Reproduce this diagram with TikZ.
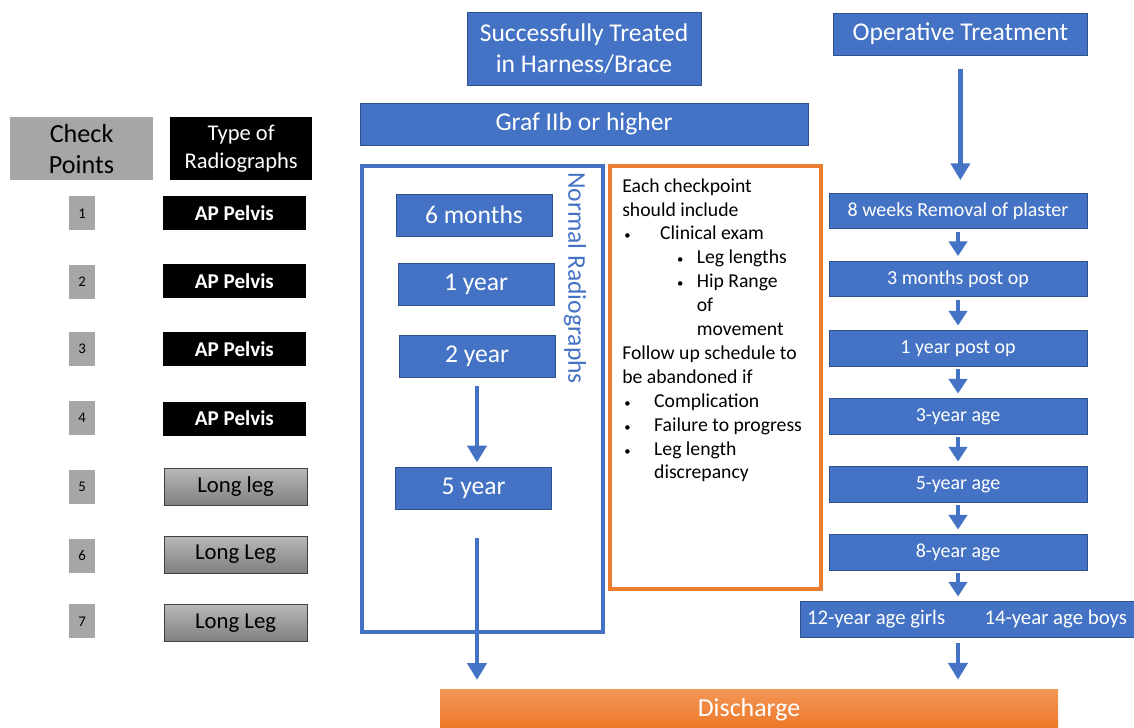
\documentclass[tikz,border=0pt]{standalone}
\usepackage{fontspec}
\setmainfont{Carlito}
\usetikzlibrary{arrows.meta,positioning,calc}

\definecolor{ofblue}{RGB}{68,114,196}
\definecolor{ofblueedge}{RGB}{47,82,143}
\definecolor{oforange}{RGB}{237,125,49}
\definecolor{dischtop}{RGB}{243,150,88}
\definecolor{dischbot}{RGB}{236,118,36}
\definecolor{ckgray}{RGB}{166,166,166}

\newcommand{\bul}[3]{\makebox[#2][l]{\hspace*{#1}{\small\textbullet}}#3}

\begin{document}
\begin{tikzpicture}[
  box/.style={rectangle, inner sep=0pt, align=center},
  bluebox/.style={box, fill=ofblue, draw=ofblueedge, line width=0.6pt, text=white},
  stepbox/.style={bluebox, minimum width=6.45cm, minimum height=0.88cm, font=\fontsize{14.2}{16}\selectfont},
  yearbox/.style={bluebox, minimum width=3.9cm, minimum height=1.05cm, font=\fontsize{18.2}{20}\selectfont},
  numbox/.style={box, fill=ckgray, minimum width=0.65cm, minimum height=0.85cm, font=\fontsize{10.5}{12}\selectfont},
  xray/.style={box, fill=black, text=white, minimum width=3.58cm, minimum height=0.85cm, font=\fontsize{15}{16}\selectfont\bfseries},
  longleg/.style={box, top color=black!28, bottom color=black!50, draw=black!75, line width=0.6pt, minimum width=3.58cm, minimum height=0.93cm, font=\fontsize{16.2}{18}\selectfont},
  flow/.style={ofblue, line width=3.4pt, -{Triangle[width=13.5pt,length=12pt]}},
  hop/.style={ofblue, line width=3.4pt, -{Triangle[width=13pt,length=10.5pt]}, shorten <=2pt, shorten >=3.5pt},
]
\useasboundingbox (0,0) rectangle (28.35,18.175);

\node[box, fill=ckgray, minimum width=3.58cm, minimum height=1.58cm, font=\fontsize{18.6}{22}\selectfont] (chk) at (2.04,14.46) {Check\\Points};
\node[box, fill=black, text=white, minimum width=3.55cm, minimum height=1.58cm, font=\fontsize{16}{20}\selectfont] (typ) at (6.03,14.46) {Type of\\Radiographs};
\foreach \i/\y in {1/12.84,2/11.125,3/9.45,4/7.725,5/6.01,6/4.275,7/2.64}
  \node[numbox] (n\i) at (2.05,\y) {\i};
\foreach \i/\y in {1/12.84,2/11.15,3/9.45,4/7.71}
  \node[xray] (r\i) at (5.86,\y) {AP Pelvis};
\foreach \i/\y/\t in {5/6.0/Long leg,6/4.31/Long Leg,7/2.6/Long Leg}
  \node[longleg] (r\i) at (5.89,\y) {\t};

\node[bluebox, minimum width=5.85cm, minimum height=1.83cm, font=\fontsize{18.2}{22}\selectfont] (succ) at (14.6,16.96) {Successfully Treated\\in Harness/Brace};
\node[bluebox, minimum width=11.2cm, minimum height=1.05cm, font=\fontsize{18.2}{20}\selectfont] (graf) at (14.6,15.075) {Graf IIb or higher};
\draw[ofblue, line width=2.8pt] (9.05,2.375) rectangle (15.075,14.025);
\node[yearbox] (m6) at (11.85,12.8) {6 months};
\node[yearbox] (y1) at (11.9,11.075) {1 year};
\node[yearbox] (y2) at (11.925,9.275) {2 year};
\node[yearbox] (y5) at (11.84,5.96) {5 year};
\node[rotate=-90, text=ofblue, font=\fontsize{18.2}{20}\selectfont] (normal) at (14.375,11.225) {Normal Radiographs};

\draw[oforange, line width=3pt] (15.25,3.45) rectangle (20.525,14.025);
\node[anchor=north west, align=left, inner sep=0pt, font=\fontsize{14}{17}\selectfont] (notes) at (15.55,13.72) {%
  Each checkpoint\\
  should include\\
  \bul{1.4pt}{27pt}{Clinical exam}\\
  \bul{39pt}{53pt}{Leg lengths}\\
  \bul{39pt}{53pt}{Hip Range}\\
  \hspace*{53pt}of\\
  \hspace*{53pt}movement\\
  Follow up schedule to\\
  be abandoned if\\
  \bul{1.4pt}{22.7pt}{Complication}\\
  \bul{1.4pt}{22.7pt}{Failure to progress}\\
  \bul{1.4pt}{22.7pt}{Leg length}\\
  \hspace*{22.7pt}discrepancy};

\node[bluebox, minimum width=6.33cm, minimum height=1.05cm, font=\fontsize{18.2}{20}\selectfont] (op) at (24.01,17.325) {Operative Treatment};
\foreach \n/\y/\t in {w8/12.9/8 weeks Removal of plaster,m3/11.2/3 months post op,p1/9.4625/1 year post op,a3/7.7625/3-year age,a5/6.0625/5-year age,a8/4.3625/8-year age}
  \node[stepbox] (\n) at (23.95,\y) {\t};
\node[stepbox, minimum width=8.35cm, font=\fontsize{14.8}{16}\selectfont] (teen) at (24.175,2.6875) {12-year age girls\hspace{28pt}14-year age boys};

\node[box, top color=dischtop, bottom color=dischbot, minimum width=15.45cm, minimum height=1.05cm, text=white, font=\fontsize{18.4}{20}\selectfont] (dis) at (18.725,0.425) {Discharge};

\draw[flow, shorten <=0.22cm, shorten >=0.12cm] (y2.south) -- (y2.south |- y5.north);
\draw[flow, shorten <=0.7cm, shorten >=0.22cm] (y2.south |- y5.south) -- (y2.south |- dis.north);
\draw[flow, shorten <=0.35cm, shorten >=0.32cm] (op.south) -- (op.south |- w8.north);
\foreach \a/\b in {w8/m3,m3/p1,p1/a3,a3/a5,a5/a8,a8/teen}
  \draw[hop] (\a.south) -- (\a.south |- \b.north);
\draw[flow, shorten <=0.125cm, shorten >=0.225cm] (a8.south |- teen.south) -- (a8.south |- dis.north);
\end{tikzpicture}
\end{document}
